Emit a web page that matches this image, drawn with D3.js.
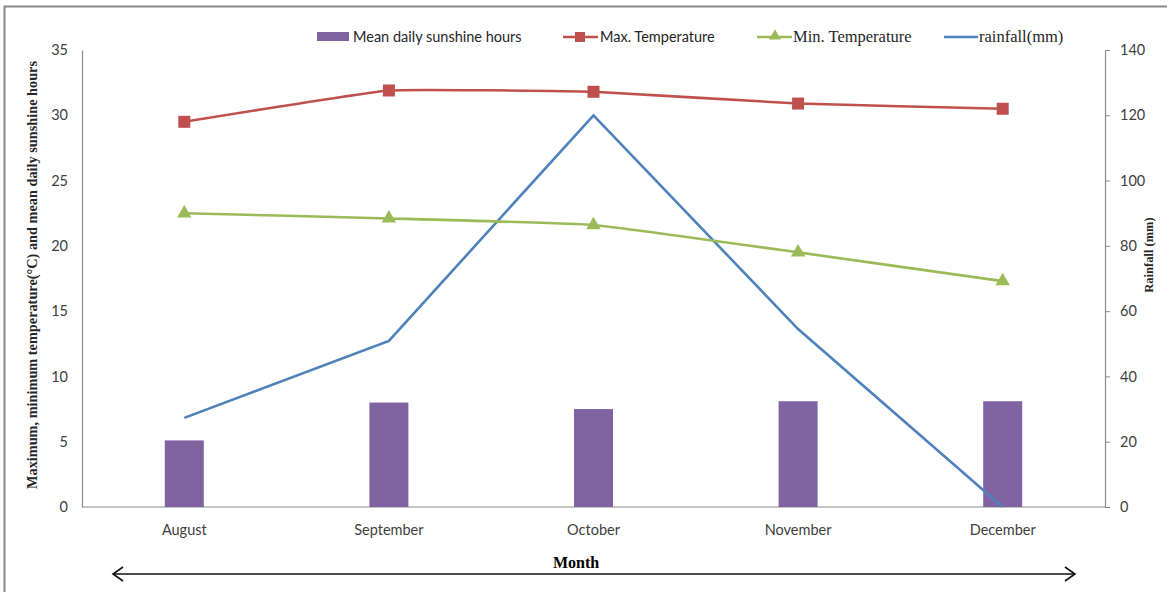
<!DOCTYPE html>
<html><head><meta charset="utf-8">
<script src="https://cdn.jsdelivr.net/npm/d3@7"></script>
<style>
body{margin:0;background:#fff;}
svg{display:block;}
</style></head>
<body>
<svg id="chart" width="1167" height="592"></svg>
<script>
const months = ["August","September","October","November","December"];
const sunshine = [5.1, 8.0, 7.5, 8.1, 8.1];
const maxTemp = [29.5, 31.9, 31.8, 30.9, 30.5];
const minTemp = [22.5, 22.1, 21.6, 19.5, 17.3];
const rainfall = [27.3, 50.9, 120, 54.5, 0];
const leftTicks = [0,5,10,15,20,25,30,35];
const rightTicks = [0,20,40,60,80,100,120,140];

const svg = d3.select("#chart");
const L = 82, R = 1105, T = 50, B = 507;
const calibri = "Lato, 'Open Sans', sans-serif";
const serif = "'Liberation Serif', 'DejaVu Serif', serif";

// frame
svg.append("rect").attr("x",4.5).attr("y",6.5).attr("width",1200).attr("height",700)
  .attr("fill","none").attr("stroke","#8a8a8a").attr("stroke-width",2);

const x = d3.scaleBand().domain(months).range([L,R]);
const yL = d3.scaleLinear().domain([0,35]).range([B,T]);
const yR = d3.scaleLinear().domain([0,140]).range([B,T]);

// axes
const gx = svg.append("g").attr("transform",`translate(0,${B})`)
  .call(d3.axisBottom(x).tickSize(0).tickPadding(18));
const gl = svg.append("g").attr("transform",`translate(${L},0)`)
  .call(d3.axisLeft(yL).tickValues(leftTicks).tickSize(0).tickPadding(14));
const gr = svg.append("g").attr("transform",`translate(${R},0)`)
  .call(d3.axisRight(yR).tickValues(rightTicks).tickSize(5).tickPadding(10));
[gx,gl,gr].forEach(g=>{
  g.select(".domain").attr("stroke","#8c8c8c").attr("stroke-width",1.2);
  g.selectAll(".tick line").attr("stroke","#8c8c8c");
  g.selectAll("text").attr("font-family",calibri).attr("font-size",14.5).attr("fill","#404040");
});
gx.select(".domain").attr("d",`M${L},0H${R}`);

// bars
const bw = 39;
svg.append("g").selectAll("rect").data(sunshine).join("rect")
  .attr("x",(d,i)=>x(months[i])+x.bandwidth()/2-bw/2)
  .attr("y",d=>yL(d)).attr("width",bw).attr("height",d=>B-yL(d))
  .attr("fill","#8064A2");

const cx = i => x(months[i])+x.bandwidth()/2;
const smooth = d3.line().x((d,i)=>cx(i)).curve(d3.curveCardinal.tension(0.7));

// rainfall
svg.append("path").attr("d",d3.line().x((d,i)=>cx(i)).y(d=>yR(d))(rainfall))
  .attr("fill","none").attr("stroke","#4F81BD").attr("stroke-width",2.6);

// min temp
svg.append("path").attr("d",smooth.y(d=>yL(d))(minTemp))
  .attr("fill","none").attr("stroke","#9BBB59").attr("stroke-width",2.6);
const tri = d3.symbol().type(d3.symbolTriangle).size(90);
svg.append("g").selectAll("path").data(minTemp).join("path")
  .attr("transform",(d,i)=>`translate(${cx(i)},${yL(d)})`).attr("d",tri).attr("fill","#9BBB59");

// max temp
svg.append("path").attr("d",smooth.y(d=>yL(d))(maxTemp))
  .attr("fill","none").attr("stroke","#C0504D").attr("stroke-width",2.6);
svg.append("g").selectAll("rect").data(maxTemp).join("rect")
  .attr("x",(d,i)=>cx(i)-6).attr("y",d=>yL(d)-6).attr("width",12).attr("height",12)
  .attr("fill","#C0504D");

// legend
const lg = svg.append("g");
lg.append("rect").attr("x",317).attr("y",32).attr("width",32).attr("height",9).attr("fill","#8064A2");
lg.append("text").attr("x",353).attr("y",42).text("Mean daily sunshine hours")
  .attr("font-family",calibri).attr("font-size",14.5).attr("fill","#262626");
lg.append("line").attr("x1",563).attr("x2",598).attr("y1",37).attr("y2",37).attr("stroke","#C0504D").attr("stroke-width",2.6);
lg.append("rect").attr("x",575).attr("y",32).attr("width",10).attr("height",10).attr("fill","#C0504D");
lg.append("text").attr("x",600).attr("y",42).text("Max. Temperature")
  .attr("font-family",calibri).attr("font-size",14.5).attr("fill","#262626");
lg.append("line").attr("x1",757).attr("x2",792).attr("y1",37).attr("y2",37).attr("stroke","#9BBB59").attr("stroke-width",2.6);
lg.append("path").attr("transform","translate(775,36)").attr("d",d3.symbol().type(d3.symbolTriangle).size(60)).attr("fill","#9BBB59");
lg.append("text").attr("x",793).attr("y",42).text("Min. Temperature")
  .attr("font-family",serif).attr("font-size",16.5).attr("fill","#262626");
lg.append("line").attr("x1",944).attr("x2",978).attr("y1",37).attr("y2",37).attr("stroke","#4F81BD").attr("stroke-width",2.6);
lg.append("text").attr("x",979).attr("y",42).text("rainfall(mm)")
  .attr("font-family",serif).attr("font-size",16.5).attr("fill","#262626");

// axis titles
svg.append("text").attr("transform","translate(37,275) rotate(-90)")
  .attr("text-anchor","middle").attr("font-family",serif).attr("font-weight","bold")
  .attr("font-size",14.3).attr("fill","#262626")
  .text("Maximum, minimum temperature(°C) and mean daily sunshine hours");
svg.append("text").attr("transform","translate(1153,255) rotate(-90)")
  .attr("text-anchor","middle").attr("font-family",serif).attr("font-weight","bold")
  .attr("font-size",12.5).attr("fill","#262626")
  .text("Rainfall (mm)");

// Month title and arrow
svg.append("text").attr("x",576).attr("y",568).attr("text-anchor","middle")
  .attr("font-family",serif).attr("font-weight","bold").attr("font-size",16).attr("fill","#000")
  .text("Month");
const ag = svg.append("g").attr("stroke","#111").attr("fill","none").attr("stroke-width",1.6);
ag.append("line").attr("x1",113).attr("x2",1075).attr("y1",574).attr("y2",574);
ag.append("path").attr("d","M123,567L113,574L123,581");
ag.append("path").attr("d","M1065,567L1075,574L1065,581");
</script>
</body></html>
